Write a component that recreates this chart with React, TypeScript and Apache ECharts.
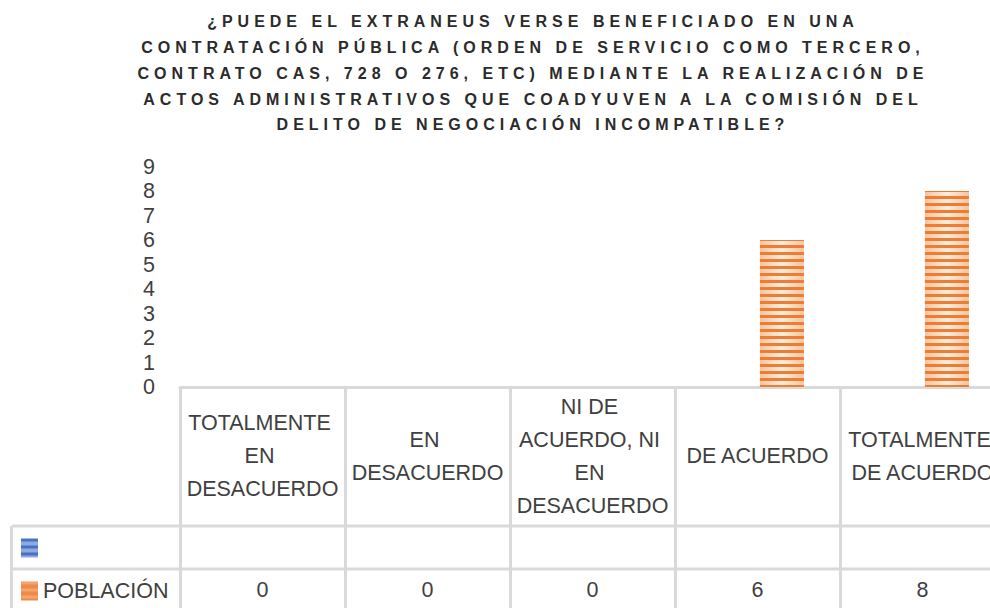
import React, { useEffect, useRef } from 'react';
import * as echarts from 'echarts';

const TITLE_LINES = [
  '¿PUEDE EL EXTRANEUS VERSE BENEFICIADO EN UNA',
  'CONTRATACIÓN PÚBLICA (ORDEN DE SERVICIO COMO TERCERO,',
  'CONTRATO CAS, 728 O 276, ETC) MEDIANTE LA REALIZACIÓN DE',
  'ACTOS ADMINISTRATIVOS QUE COADYUVEN A LA COMISIÓN DEL',
  'DELITO DE NEGOCIACIÓN INCOMPATIBLE?',
];

const categories = [
  'TOTALMENTE EN DESACUERDO',
  'EN DESACUERDO',
  'NI DE ACUERDO, NI EN DESACUERDO',
  'DE ACUERDO',
  'TOTALMENTE DE ACUERDO',
];

const blankSeriesName = ' ';
const blankValues: (number | null)[] = [null, null, null, null, null];

const poblacionName = 'POBLACIÓN';
const poblacion = [0, 0, 0, 6, 8];

const Y_MIN = 0;
const Y_MAX = 9;
const Y_INTERVAL = 1;

const TEXT_COLOR = '#404040';
const GRID_COLOR = '#D9D9D9';
const FONT = "'Liberation Sans', Arial, sans-serif";

export default function App() {
  const ref = useRef<HTMLDivElement>(null);

  useEffect(() => {
    if (!ref.current) return;
    const chart = echarts.init(ref.current, null, { renderer: 'svg' });

    const orangeFill = new echarts.graphic.LinearGradient(0, 0, 1, 0, [
      { offset: 0, color: '#F6C4A0' },
      { offset: 0.5, color: '#FDECE0' },
      { offset: 1, color: '#F6C4A0' },
    ]);

    const stripe = (color: string) => ({
      symbol: 'rect',
      symbolSize: 1,
      color,
      dashArrayX: [20, 0],
      dashArrayY: [3, 3.5],
      rotation: 0,
    });

    chart.setOption({
      animation: false,
      title: {
        text: TITLE_LINES.join('\n'),
        left: 533,
        top: 9,
        textAlign: 'center',
        padding: 0,
        textStyle: {
          fontFamily: "'Liberation Sans', titlefont",
          fontWeight: 'bold',
          fontSize: 16,
          lineHeight: 25.75,
          color: '#2b2b2b',
        },
      },
      legend: {
        orient: 'vertical',
        left: 21,
        top: 537,
        padding: 0,
        itemWidth: 17,
        itemHeight: 19,
        itemGap: 21,
        selectedMode: false,
        icon: 'rect',
        data: [
          { name: blankSeriesName },
          {
            name: poblacionName,
            itemStyle: { color: '#F08A48', decal: stripe('rgba(255,255,255,0.22)') },
          },
        ],
        textStyle: {
          fontSize: 21.5,
          lineHeight: 19,
          color: TEXT_COLOR,
          fontFamily: FONT,
        },
      },
      grid: {
        left: 180,
        width: 825,
        top: 166.5,
        height: 220.5,
        containLabel: false,
        outerBoundsMode: 'none',
      },
      xAxis: [
        {
          type: 'category',
          data: categories,
          position: 'bottom',
          axisLine: { show: true, lineStyle: { color: GRID_COLOR, width: 3 } },
          axisTick: {
            show: true,
            alignWithLabel: false,
            interval: 0,
            length: 221,
            lineStyle: { color: GRID_COLOR, width: 3 },
          },
          axisLabel: {
            interval: 0,
            margin: 69,
            verticalAlign: 'middle',
            width: 160,
            overflow: 'break',
            lineHeight: 33,
            fontSize: 21.5,
            color: TEXT_COLOR,
            fontFamily: FONT,
            hideOverlap: false,
          },
          splitLine: { show: false },
        },
        {
          type: 'category',
          data: categories,
          position: 'bottom',
          axisLine: { show: false },
          axisTick: { show: false },
          axisLabel: {
            interval: 0,
            margin: 203,
            verticalAlign: 'middle',
            fontSize: 21.5,
            color: TEXT_COLOR,
            fontFamily: FONT,
            formatter: (_v: string, i: number) => String(poblacion[i]),
          },
          splitLine: { show: false },
        },
      ],
      yAxis: {
        type: 'value',
        min: Y_MIN,
        max: Y_MAX,
        interval: Y_INTERVAL,
        axisLine: { show: false },
        axisTick: { show: false },
        splitLine: { show: false },
        axisLabel: {
          margin: 25,
          fontSize: 21.5,
          color: TEXT_COLOR,
          fontFamily: FONT,
        },
      },
      series: [
        {
          type: 'bar',
          name: blankSeriesName,
          xAxisIndex: 0,
          data: blankValues,
          barWidth: 44,
          barGap: '11%',
          itemStyle: { color: '#8FAADC', decal: stripe('#4472C4') },
        },
        {
          type: 'bar',
          name: poblacionName,
          xAxisIndex: 0,
          data: poblacion,
          barWidth: 44,
          barGap: '11%',
          itemStyle: { color: orangeFill, decal: stripe('#ED7D31') },
        },
      ],
      graphic: [
        {
          type: 'line',
          shape: { x1: 12, y1: 526, x2: 990, y2: 526 },
          style: { stroke: GRID_COLOR, lineWidth: 3 },
          z: 0,
        },
        {
          type: 'line',
          shape: { x1: 12, y1: 569, x2: 990, y2: 569 },
          style: { stroke: GRID_COLOR, lineWidth: 3 },
          z: 0,
        },
        {
          type: 'line',
          shape: { x1: 11.5, y1: 526, x2: 11.5, y2: 608 },
          style: { stroke: GRID_COLOR, lineWidth: 3 },
          z: 0,
        },
      ],
    });

    return () => chart.dispose();
  }, []);

  return (
    <>
      <style>{`.chart-host text[style*="titlefont"]{letter-spacing:5px;}`}</style>
      <div
        ref={ref}
        className="chart-host"
        style={{ position: 'fixed', left: 0, top: 0, width: 990, height: 608, background: '#fff' }}
      />
    </>
  );
}
